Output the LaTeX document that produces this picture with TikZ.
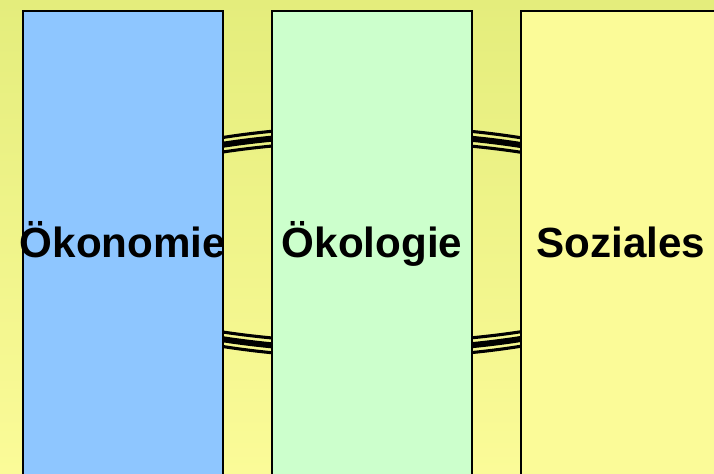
\documentclass[tikz,border=0pt]{standalone}
\usepackage{fontspec}
\setmainfont{Liberation Sans}
\definecolor{hgoben}{RGB}{228,237,124}
\definecolor{hgunten}{RGB}{251,251,152}
\definecolor{blau}{RGB}{142,198,255}
\definecolor{gruen}{RGB}{204,255,204}
\definecolor{gelb}{RGB}{251,251,152}
\begin{document}
\begin{tikzpicture}[x=0.25mm,y=-0.25mm]
	\tikzstyle{saeule}=[draw=black,line width=1.4pt,rectangle,anchor=north west,
		minimum width=50mm,minimum height=118mm]
	\tikzstyle{titel}=[inner sep=0pt,text height=7.5mm,text depth=2mm,
		font=\fontsize{30}{36}\selectfont\bfseries]
	\tikzstyle{ring}=[draw=black]
	\clip (0,0) rectangle (714,473);
	\shade[top color=hgoben,bottom color=hgunten] (0,0) rectangle (714,473);
	% ring behind the three columns
	\draw[ring,line width=2.2pt] (371,242) ellipse (347.5 and 115.5);
	\draw[ring,line width=4.3pt] (371,242) ellipse (340 and 108);
	\draw[ring,line width=2.2pt] (371,242) ellipse (332.5 and 100.5);
	\node[saeule,fill=blau] (oekonomie) at (22,10) {};
	\node[saeule,fill=gruen] (oekologie) at (271,10) {};
	\node[saeule,fill=gelb] (soziales) at (520,10) {};
	\node[titel] (toekonomie) at (oekonomie.center) {Ökonomie};
	\node[titel] (toekologie) at (oekologie.center) {Ökologie};
	\node[titel] (tsoziales) at (soziales.center) {Soziales};
\end{tikzpicture}
\end{document}
